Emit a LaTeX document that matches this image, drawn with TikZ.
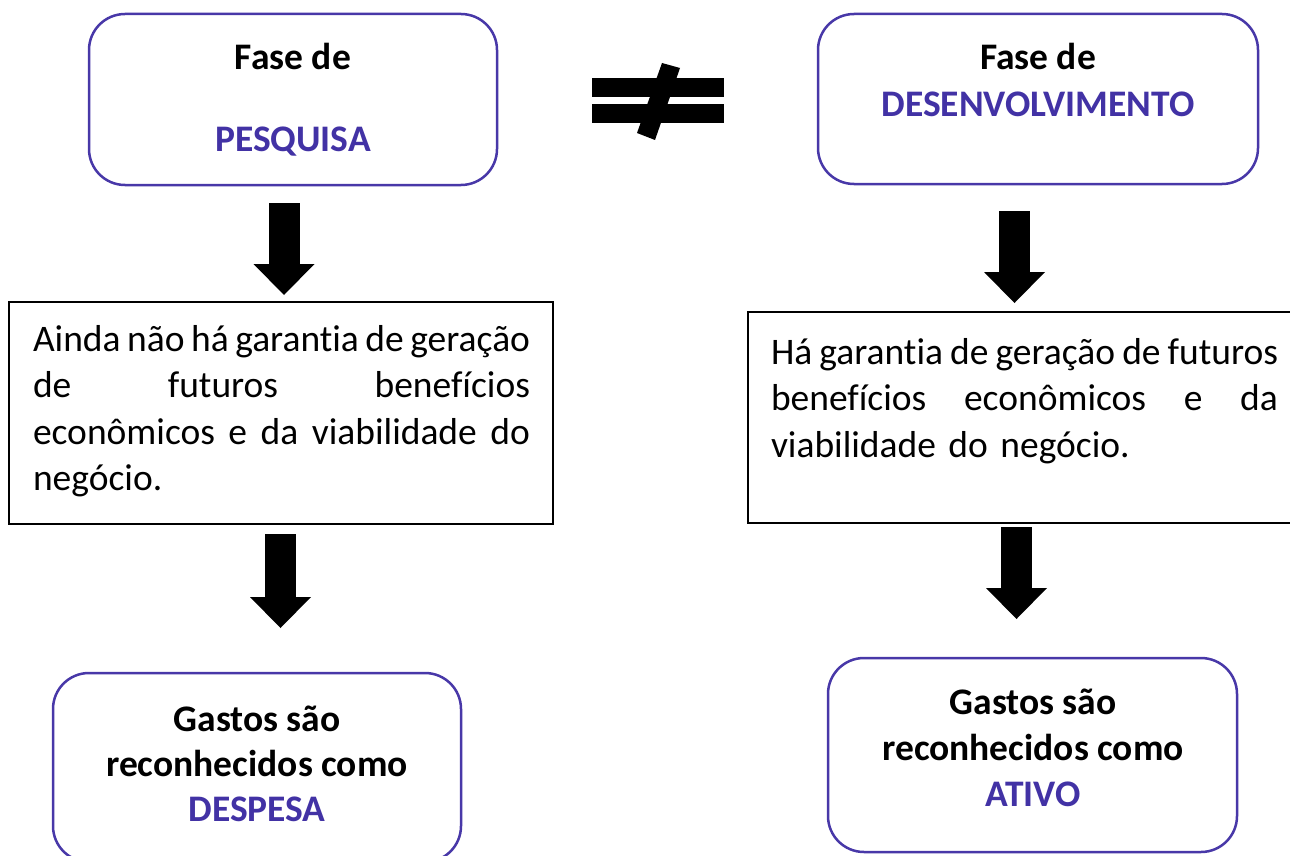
\documentclass[tikz,border=0pt]{standalone}
\usepackage{fontspec}
\setmainfont{Carlito}[Ligatures=NoCommon]
\usetikzlibrary{arrows.meta}
\definecolor{boxpurple}{RGB}{72,56,168}
\definecolor{txtpurple}{RGB}{66,50,165}
\newcommand\jline[2]{\hbox to #1{\spaceskip=0.2em plus 1fil minus 0.08em\relax #2}}
\begin{document}
\begin{tikzpicture}[x=1pt,y=-1pt,
  every node/.style={inner sep=0pt, outer sep=0pt},
  rbox/.style={draw=boxpurple, line width=2.5pt, rounded corners=36pt, fill=white, anchor=north west},
  tbox/.style={draw=black, line width=2.2pt, fill=white, anchor=north west},
  hd/.style={font=\fontsize{37.5}{45}\selectfont\bfseries, anchor=base},
  hdp/.style={hd, text=txtpurple},
  body/.style={font=\fontsize{37.5}{46.5}\selectfont, anchor=base west, align=left},
  blockarrow/.style={line width=31pt, -{Triangle[length=31pt, width=61pt, line width=0pt]}}
]
\clip (0,0) rectangle (1290,856);
\fill[white] (0,0) rectangle (1290,856);

% boxes
\node[rbox, minimum width=408pt, minimum height=171pt] (p1) at (89,14) {};
\node[rbox, minimum width=440pt, minimum height=170pt] (p2) at (818,14) {};
\node[tbox, minimum width=544pt, minimum height=222pt] (t1) at (9,302) {};
\node[tbox, minimum width=552pt, minimum height=211pt] (t2) at (748,312) {};
\node[rbox, minimum width=408pt, minimum height=189pt] (r1) at (53,673) {};
\node[rbox, minimum width=409pt, minimum height=194pt] (r2) at (828,658) {};

% top texts
\node[hd] (p1a) at (293,70) {Fase de};
\node[hdp] (p1b) at (293,152) {PESQUISA};
\node[hd] (p2a) at (1038,70) {Fase de};
\node[hdp] (p2b) at (1038,117) {DESENVOLVIMENTO};

% middle texts
\node[body, text width=497pt] (t1x) at (33,351) {%
\jline{497pt}{Ainda não há garantia de geração}
\jline{497pt}{de futuros benefícios}
\jline{497pt}{econômicos e da viabilidade do}
\hbox{negócio.}};
\node[body, text width=507pt] (t2x) at (771,364) {%
\jline{507pt}{Há garantia de geração de futuros}
\jline{507pt}{benefícios econômicos e da}
\hbox{viabilidade do negócio.}};

% bottom texts
\node[hd] (r1a) at (257,731) {Gastos são};
\node[hd] (r1b) at (257,776) {reconhecidos como};
\node[hdp] (r1c) at (257,821) {DESPESA};
\node[hd] (r2a) at (1033,714) {Gastos são};
\node[hd] (r2b) at (1033,760) {reconhecidos como};
\node[hdp] (r2c) at (1033,806) {ATIVO};

% block arrows
\draw[blockarrow] ([xshift=-9pt,yshift=-18pt]p1.south) -- ([xshift=3pt,yshift=7pt]t1.north);
\draw[blockarrow] ([xshift=-0.5pt,yshift=-10pt]t1.south) -- ([xshift=23.5pt,yshift=45pt]r1.north);
\draw[blockarrow] ([xshift=-23.5pt,yshift=-27pt]p2.south) -- ([xshift=-9.5pt,yshift=9pt]t2.north);
\draw[blockarrow] ([xshift=-7.5pt,yshift=-4pt]t2.south) -- ([xshift=-16pt,yshift=39pt]r2.north);

% not-equal sign
\fill[black] (592,78) rectangle (724,97);
\fill[black] (592,104) rectangle (724,123);
\fill[black] (662,63) -- (680,68) -- (655,140) -- (637,133) -- cycle;
\end{tikzpicture}
\end{document}
